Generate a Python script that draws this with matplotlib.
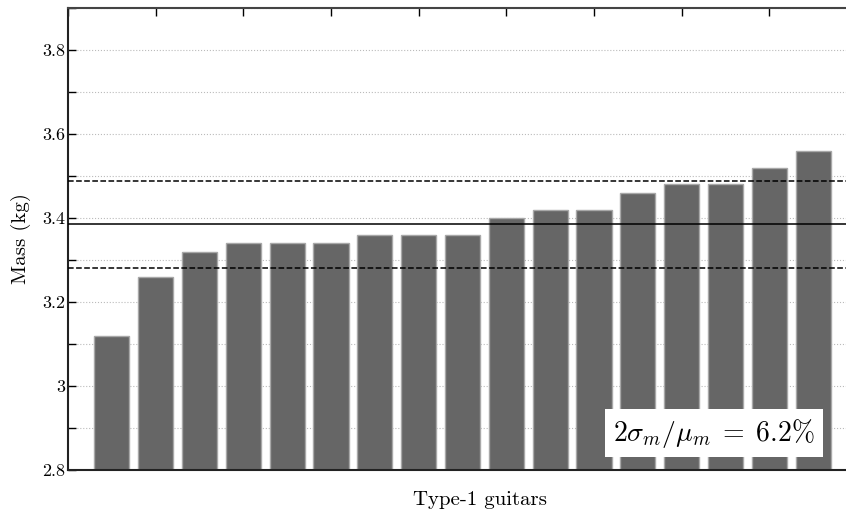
import numpy as np
import matplotlib
matplotlib.use('Agg')
import matplotlib.pyplot as plt
import matplotlib.ticker as mticker

# ── Data ────────────────────────────────────────────────
guitar_idx = list(range(1, 18))
mass_kg = [3.12, 3.26, 3.32, 3.34, 3.34, 3.34, 3.36, 3.36, 3.36,
           3.40, 3.42, 3.42, 3.46, 3.48, 3.48, 3.52, 3.56]
spread_label = r'$2\sigma_m/\mu_m\;=\;6.2\%$'

mean_m = np.mean(mass_kg)
std_m = np.std(mass_kg, ddof=1)

# ── Style ───────────────────────────────────────────────
plt.rcParams['font.family'] = 'serif'
plt.rcParams['font.serif'] = ['cmr10']
plt.rcParams['mathtext.fontset'] = 'cm'
plt.rcParams['axes.formatter.use_mathtext'] = True

W, H = 846, 515
fig = plt.figure(figsize=(W / 100, H / 100), dpi=100)
ax = fig.add_axes([68 / W, (H - 470) / H, (857 - 68) / W, (470 - 8) / H])

ax.bar(guitar_idx, mass_kg, width=0.8, color='#666666',
       edgecolor='#a8a8a8', linewidth=1, zorder=2)

ax.axhline(mean_m, color='black', lw=1.1, zorder=3)
ax.axhline(mean_m + std_m, color='black', lw=1.1, ls='--', zorder=3)
ax.axhline(mean_m - std_m, color='black', lw=1.1, ls='--', zorder=3)

ax.text(14.74, 2.888, spread_label, fontsize=20,
        ha='center', va='center', zorder=4,
        bbox=dict(facecolor='white', edgecolor='none', pad=5.5))

ax.set_xlim(0, 18)
ax.set_ylim(2.8, 3.9)
ax.yaxis.set_major_locator(mticker.MultipleLocator(0.2))
ax.yaxis.set_minor_locator(mticker.MultipleLocator(0.1))
ax.yaxis.set_major_formatter(mticker.FuncFormatter(lambda v, p: f'{round(v, 3):g}'))
ax.xaxis.set_major_locator(mticker.MultipleLocator(2))

ax.tick_params(axis='x', which='both', bottom=False, top=True, labelbottom=False,
               direction='in', length=6, width=1)
ax.tick_params(axis='y', which='both', left=True, right=False, direction='in',
               length=6, width=1, labelsize=13, pad=2)
ax.grid(axis='y', which='both', color='#bbbbbb', ls=':', lw=0.8, zorder=0)
ax.set_axisbelow(True)

for s in ax.spines.values():
    s.set_linewidth(1.5)
    s.set_color('#222222')
ax.spines['top'].set_color('#444444')

ax.set_ylabel('Mass (kg)', fontsize=15, labelpad=8)
ax.set_xlabel('Type-1 guitars', fontsize=15)
ax.xaxis.set_label_coords((480 - 68) / (857 - 68), -0.045)

fig.savefig('out.png', dpi=100, facecolor='white')
